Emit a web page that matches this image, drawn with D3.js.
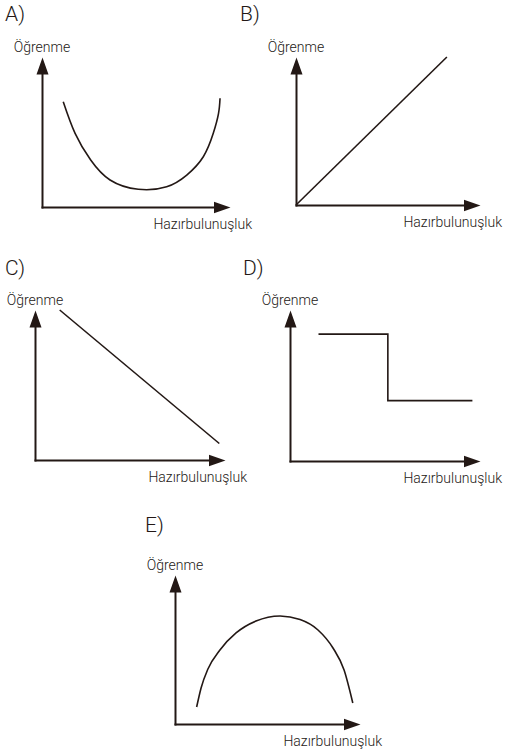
<!DOCTYPE html>
<html>
<head>
<meta charset="utf-8">
<script src="https://cdn.jsdelivr.net/npm/d3@7"></script>
<style>
  body { margin: 0; background: #fff; }
  text { font-family: Roboto, "Liberation Sans", Arial, sans-serif; font-weight: 300; fill: #231815; }
</style>
</head>
<body>
<div id="chart"></div>
<script>
// option labels and axis titles
var panelNames = ["A)", "B)", "C)", "D)", "E)"];
var yTitle = "Öğrenme";
var xTitle = "Hazırbulunuşluk";

// each graph in axis units (0..100 from origin to arrow tip)
var aX = [11.3, 17.6, 25.9, 36.2, 51.2, 66.3, 77, 85.8, 91.1, 93.9, 94.7];
var aY = [70.2, 49.1, 31.3, 18, 11.8, 13.5, 21.3, 33.5, 49.1, 62.4, 72.5];

var bX = [0, 82];
var bY = [0, 100];

var cX = [13, 97];
var cY = [100, 11];

var dX = [15, 51.5, 96];
var dY = [84, 40, 40];

var eX = [11.7, 14.1, 17.8, 24.3, 33, 43.8, 56.8, 67.6, 77.3, 85.4, 91.4, 96.1];
var eY = [11.4, 24.2, 36.9, 49.7, 61.1, 69.1, 72.5, 70.1, 63.1, 51, 36.2, 14.1];

var series = [
  {x: aX, y: aY, curve: d3.curveNatural},
  {x: bX, y: bY, curve: d3.curveLinear},
  {x: cX, y: cY, curve: d3.curveLinear},
  {x: dX, y: dY, curve: d3.curveStepAfter},
  {x: eX, y: eY, curve: d3.curveMonotoneX}
];

// where each small graph sits on the page
var panels = [
  {ox: 42,  oy: 207, w: 188, h: 150, lx: 5,   ly: 21},
  {ox: 296, oy: 205, w: 184, h: 148, lx: 240, ly: 21},
  {ox: 35,  oy: 460, w: 190, h: 150, lx: 5,   ly: 275},
  {ox: 290, oy: 461, w: 190, h: 151, lx: 243, ly: 275},
  {ox: 175, oy: 724, w: 185, h: 149, lx: 145, ly: 532}
];

var ink = "#231815";
var arrowBack = 11;

var svg = d3.select("#chart")
  .append("svg")
    .attr("width", 509)
    .attr("height", 749);

svg.append("defs").append("marker")
    .attr("id", "arrow")
    .attr("markerUnits", "userSpaceOnUse")
    .attr("viewBox", "0 -7 18 14")
    .attr("refX", 6)
    .attr("refY", 0)
    .attr("markerWidth", 18)
    .attr("markerHeight", 14)
    .attr("orient", "auto")
  .append("path")
    .attr("d", "M0,-6 L17,0 L0,6 Z")
    .attr("fill", ink);

panels.forEach(function(p, i) {
  var x = d3.scaleLinear().domain([0, 100]).range([p.ox, p.ox + p.w]);
  var y = d3.scaleLinear().domain([0, 100]).range([p.oy, p.oy - p.h]);

  // axes: no ticks, domain line ends short of the tip, arrow marker makes up the rest
  var xAxisScale = x.copy().range([p.ox - 1, p.ox + p.w - arrowBack]);
  var yAxisScale = y.copy().range([p.oy + 1, p.oy - p.h + arrowBack]);

  var gx = svg.append("g")
    .attr("transform", "translate(0," + p.oy + ")")
    .call(d3.axisBottom(xAxisScale).tickValues([]).tickSizeOuter(0));
  gx.select(".domain")
    .attr("stroke", ink)
    .attr("stroke-width", 2)
    .attr("marker-end", "url(#arrow)");

  var gy = svg.append("g")
    .attr("transform", "translate(" + p.ox + ",0)")
    .call(d3.axisLeft(yAxisScale).tickValues([]).tickSizeOuter(0));
  gy.select(".domain")
    .attr("stroke", ink)
    .attr("stroke-width", 2)
    .attr("marker-end", "url(#arrow)");

  // option letter
  svg.append("text")
    .attr("x", p.lx)
    .attr("y", p.ly)
    .attr("font-size", 21)
    .text(panelNames[i]);

  // axis titles
  svg.append("text")
    .attr("x", p.ox)
    .attr("y", p.oy - p.h - 5)
    .attr("text-anchor", "middle")
    .attr("font-size", 14)
    .text(yTitle);

  svg.append("text")
    .attr("x", p.ox + p.w + 22)
    .attr("y", p.oy + 22)
    .attr("text-anchor", "end")
    .attr("font-size", 14)
    .text(xTitle);

  // the graph line
  var s = series[i];
  var pts = s.x.map(function(v, k) { return [v, s.y[k]]; });
  svg.append("path")
    .datum(pts)
    .attr("fill", "none")
    .attr("stroke", ink)
    .attr("stroke-width", 1.6)
    .attr("d", d3.line()
      .curve(s.curve)
      .x(function(d) { return x(d[0]); })
      .y(function(d) { return y(d[1]); }));
});
</script>
</body>
</html>
